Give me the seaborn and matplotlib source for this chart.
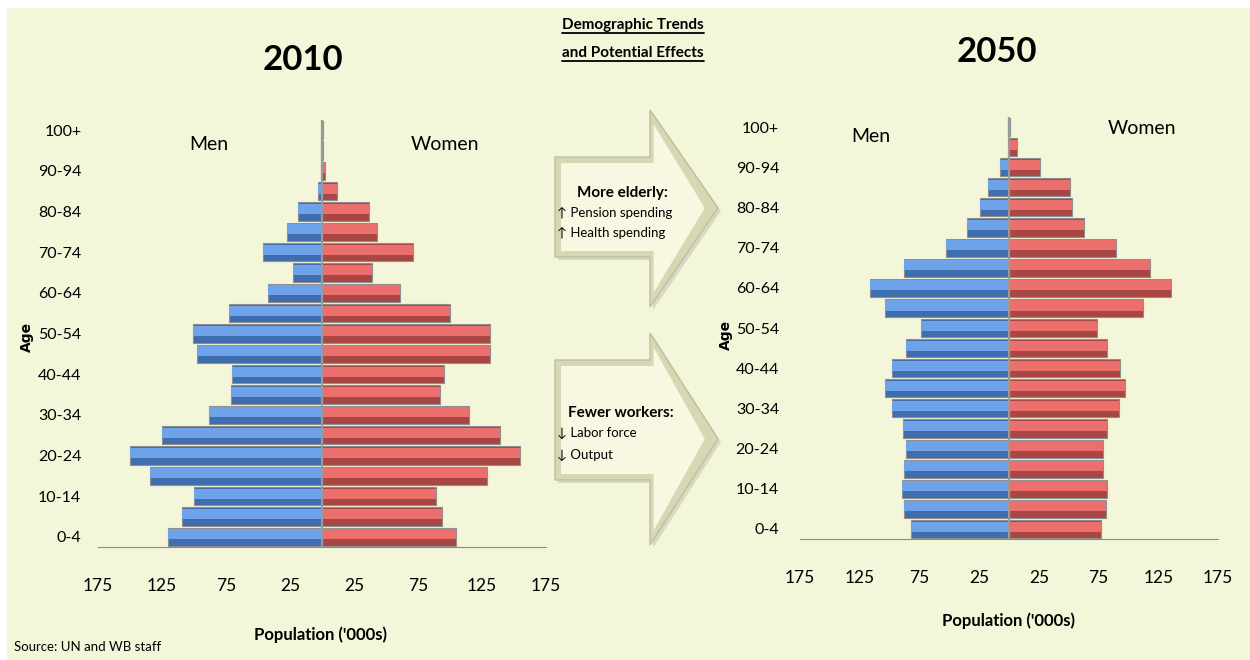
import numpy as np
import pandas as pd
import matplotlib
matplotlib.use('agg')
import matplotlib.pyplot as plt
import seaborn as sns
from matplotlib.patches import Polygon, Rectangle
from matplotlib.lines import Line2D

# age groups, bottom to top
ages = ['0-4', '5-9', '10-14', '15-19', '20-24', '25-29', '30-34', '35-39', '40-44', '45-49',
        '50-54', '55-59', '60-64', '65-69', '70-74', '75-79', '80-84', '85-89', '90-94', '95-99', '100+']

# population ('000s)
men_2010 = [120, 109, 100, 134, 150, 125, 88, 71, 70, 98, 101, 73, 42, 23, 46, 27, 19, 3, 1, 0.5, 0.3]
women_2010 = [105, 94, 89, 129, 155, 139, 115, 92, 95, 131, 131, 100, 61, 39, 71, 43, 37, 12, 2, 1, 0.5]
men_2050 = [82, 88, 90, 88, 86, 89, 98, 104, 98, 86, 74, 104, 116, 88, 53, 35, 24, 18, 7.5, 0, 0.5]
women_2050 = [77, 81, 82, 79, 79, 82, 92, 97, 93, 82, 74, 112, 136, 118, 90, 63, 53, 51, 26, 7, 1]

xticks = [-175, -125, -75, -25, 25, 75, 125, 175]

W, H = 1250, 660
BG = '#F3F6D8'
FONT = ['Lato', 'DejaVu Sans']

sns.set_style('white')
plt.rcParams['font.family'] = FONT
plt.rcParams['text.color'] = 'black'


def fx(x):
    return x / W


def fy(y):
    return 1 - y / H


def pyramid(ax, men, women, ylab_pad):
    df = pd.DataFrame({'age': ages, 'Men': -np.array(men, dtype=float), 'Women': women})
    order = ages[::-1]
    layers = [('Men', '#3F6DAE', '#6EA3EA'), ('Women', '#A94543', '#EA6F6D')]
    for col, dark, light in layers:
        sns.barplot(data=df, x=col, y='age', order=order, orient='h', color=dark,
                    saturation=1, width=0.9, edgecolor='#8f8f8f', linewidth=0.8,
                    errorbar=None, ax=ax)
        n = len(ax.patches)
        sns.barplot(data=df, x=col, y='age', order=order, orient='h', color=light,
                    saturation=1, width=0.5, linewidth=0, errorbar=None, ax=ax)
        for p in ax.patches[n:]:
            p.set_y(p.get_y() - 0.12)
    ax.axvline(0, color='#9a9a9a', lw=1.6, zorder=5)
    ax.set_xlim(-175, 175)
    ax.set_ylim(20.5, -0.5)
    ax.set_xlabel('')
    ax.set_ylabel('')
    ax.set_facecolor('none')
    for s in ['top', 'right', 'left']:
        ax.spines[s].set_visible(False)
    ax.spines['bottom'].set_color('#8c8c8c')
    ax.set_xticks(xticks)
    ax.set_xticklabels([str(abs(t)) for t in xticks])
    ax.set_yticks(range(len(order)))
    ax.set_yticklabels([a if (20 - i) % 2 == 0 else '' for i, a in enumerate(order)])
    ax.tick_params(axis='x', length=6, width=1, color='#8c8c8c', pad=16, labelsize=12.5,
                   labelcolor='black')
    ax.tick_params(axis='y', length=0, pad=ylab_pad, labelsize=11.5, labelcolor='black')


def arrow(x0, x1, xtip, body_top, body_bot, head_top, head_bot, tip_y, d=6):
    outer = [(x0, body_top), (x1, body_top), (x1, head_top), (xtip, tip_y),
             (x1, head_bot), (x1, body_bot), (x0, body_bot)]
    inner = [(x0 + d, body_top + d), (x1 + d * 0.6, body_top + d), (x1 + d * 0.6, head_top + 2.4 * d),
             (xtip - 2.2 * d, tip_y), (x1 + d * 0.6, head_bot - 2.4 * d), (x1 + d * 0.6, body_bot - d),
             (x0 + d, body_bot - d)]
    shadow = [(x + 3, y + 3) for x, y in outer]
    fig.add_artist(Polygon([(fx(x), fy(y)) for x, y in shadow], closed=True,
                           facecolor='#D8D9C4', edgecolor='none', transform=fig.transFigure))
    fig.add_artist(Polygon([(fx(x), fy(y)) for x, y in outer], closed=True,
                           facecolor='#D6D8B4', edgecolor='#BFC19D', lw=1, transform=fig.transFigure))
    fig.add_artist(Polygon([(fx(x), fy(y)) for x, y in inner], closed=True,
                           facecolor='#F7F7E2', edgecolor='none', transform=fig.transFigure))


fig = plt.figure(figsize=(W / 100, H / 100), dpi=100, facecolor='white')
fig.add_artist(Rectangle((fx(7), 0), 1, fy(8), facecolor=BG, edgecolor='none',
                         transform=fig.transFigure, zorder=-10))

axL = fig.add_axes([fx(98), fy(547), 448 / W, 427 / H])
pyramid(axL, men_2010, women_2010, 12)
axR = fig.add_axes([fx(800), fy(539), 418 / W, 422 / H])
pyramid(axR, men_2050, women_2050, 15)

# titles and labels
fig.text(fx(303), fy(60), '2010', ha='center', va='center', fontsize=25, fontweight='bold')
fig.text(fx(997), fy(52), '2050', ha='center', va='center', fontsize=25, fontweight='bold')
fig.text(fx(209), fy(145), 'Men', ha='center', va='center', fontsize=14)
fig.text(fx(445), fy(145), 'Women', ha='center', va='center', fontsize=14)
fig.text(fx(871), fy(137), 'Men', ha='center', va='center', fontsize=14)
fig.text(fx(1142), fy(128), 'Women', ha='center', va='center', fontsize=14)
fig.text(fx(27), fy(337), 'Age', ha='center', va='center', rotation=90, fontsize=10,
         fontweight='bold', family='DejaVu Sans')
fig.text(fx(726), fy(335), 'Age', ha='center', va='center', rotation=90, fontsize=10,
         fontweight='bold', family='DejaVu Sans')
fig.text(fx(321), fy(635), "Population ('000s)", ha='center', va='center', fontsize=12,
         fontweight='bold')
fig.text(fx(1009), fy(621), "Population ('000s)", ha='center', va='center', fontsize=12,
         fontweight='bold')
fig.text(fx(14), fy(647), 'Source: UN and WB staff', ha='left', va='center', fontsize=9.5)

# middle panel
arrow(555, 650, 718, 157, 257, 110, 307, 208)
arrow(555, 650, 718, 360, 480, 333, 545, 439)

fig.text(fx(622), fy(193), 'More elderly:', ha='center', va='center', fontsize=11, fontweight='bold')
fig.text(fx(557), fy(213), '\u2191 Pension spending', ha='left', va='center', fontsize=9.5)
fig.text(fx(557), fy(233), '\u2191 Health spending', ha='left', va='center', fontsize=9.5)
fig.text(fx(621), fy(413), 'Fewer workers:', ha='center', va='center', fontsize=11, fontweight='bold')
fig.text(fx(557), fy(433), '\u2193 Labor force', ha='left', va='center', fontsize=9.5)
fig.text(fx(557), fy(455), '\u2193 Output', ha='left', va='center', fontsize=9.5)

heads = []
for yy, s in [(25, 'Demographic Trends'), (53, 'and Potential Effects')]:
    heads.append(fig.text(fx(633), fy(yy), s, ha='center', va='center', fontsize=11,
                          fontweight='bold'))
fig.canvas.draw()
for t in heads:
    bb = t.get_window_extent()
    fig.add_artist(Line2D([bb.x0 / W, bb.x1 / W], [(bb.y0 - 1) / H, (bb.y0 - 1) / H],
                          color='black', lw=1.3, transform=fig.transFigure))

fig.savefig('out.png', dpi=100, facecolor=fig.get_facecolor())
